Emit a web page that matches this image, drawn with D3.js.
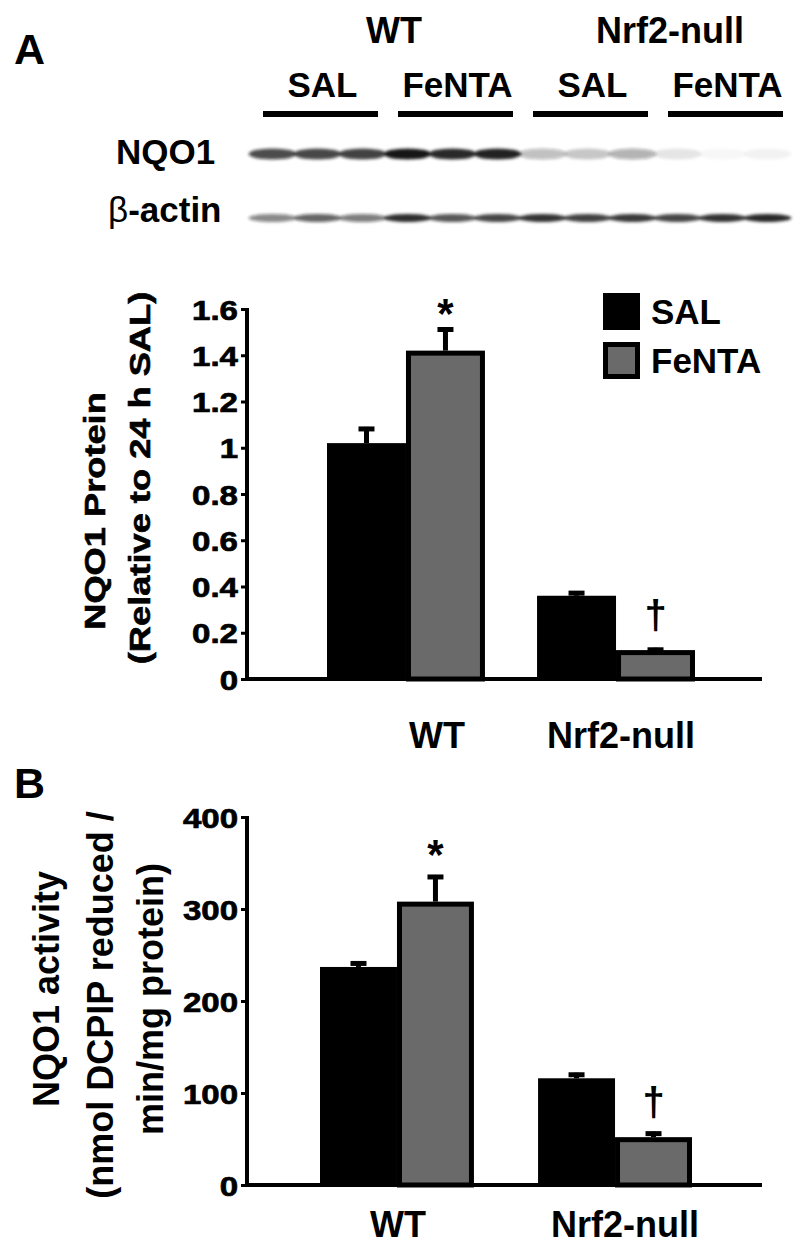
<!DOCTYPE html>
<html>
<head>
<meta charset="utf-8">
<script src="https://cdn.jsdelivr.net/npm/d3@7"></script>
<style>
  body { margin: 0; background: #fff; }
  svg text { font-family: "Liberation Sans", Arial, sans-serif; font-weight: bold; fill: #000; }
</style>
</head>
<body>
<svg width="800" height="1249"></svg>
<script>
// ---- data ----
var groups = ["WT", "Nrf2-null"];
var treatments = ["SAL", "FeNTA"];

// panel A: NQO1 protein (relative to 24 h SAL)
var proteinSAL = [1.02, 0.36];
var proteinSALerr = [0.07, 0.02];
var proteinFeNTA = [1.42, 0.125];
var proteinFeNTAerr = [0.10, 0.01];
var proteinTicks = [0, 0.2, 0.4, 0.6, 0.8, 1, 1.2, 1.4, 1.6];

// panel B: NQO1 activity
var activitySAL = [237, 116];
var activitySALerr = [6, 6];
var activityFeNTA = [308, 52];
var activityFeNTAerr = [29, 6];
var activityTicks = [0, 100, 200, 300, 400];

// western blot band intensities, 12 lanes (3 per group)
var nqo1Bands = [0.75, 0.8, 0.82, 1.0, 0.92, 0.95, 0.28, 0.22, 0.33, 0.1, 0.03, 0.05];
var actinBands = [0.5, 0.65, 0.55, 0.9, 0.7, 0.8, 0.88, 0.82, 0.85, 0.8, 0.88, 0.92];
var laneGroups = ["SAL", "FeNTA", "SAL", "FeNTA"];

var svg = d3.select("svg");
var grey = "#6a6a6a";

svg.append("rect").attr("width", 800).attr("height", 1249).attr("fill", "#fff");

var defs = svg.append("defs");
defs.append("filter").attr("id", "blur")
    .attr("x", "-20%").attr("y", "-100%").attr("width", "140%").attr("height", "300%")
    .append("feGaussianBlur").attr("stdDeviation", 1.8);

// panel letters
svg.append("text").attr("x", 14).attr("y", 64).style("font-size", "43px").text("A");
svg.append("text").attr("x", 14).attr("y", 798).style("font-size", "43px").text("B");

// ---- blot ----
var lanes = d3.scaleBand().domain(d3.range(12)).range([250, 790]);

var blot = svg.append("g");
blot.append("text").attr("x", 394).attr("y", 43).attr("text-anchor", "middle")
    .style("font-size", "36px").text(groups[0]);
blot.append("text").attr("x", 670).attr("y", 43).attr("text-anchor", "middle")
    .style("font-size", "36px").text(groups[1]);

laneGroups.forEach(function (g, i) {
    var x0 = lanes(i * 3) + 13, x1 = lanes(i * 3 + 2) + lanes.bandwidth() - 7;
    blot.append("line").attr("x1", x0).attr("x2", x1).attr("y1", 114).attr("y2", 114)
        .attr("stroke", "#000").attr("stroke-width", 6);
    blot.append("text").attr("x", (x0 + x1) / 2 + 2).attr("y", 97).attr("text-anchor", "middle")
        .style("font-size", "35px").text(g);
});

blot.append("text").attr("x", 116).attr("y", 164).style("font-size", "35px").text("NQO1");
var bt = blot.append("text").attr("x", 108).attr("y", 222).style("font-size", "35px");
bt.append("tspan").style("font-weight", "normal").text("β");
bt.append("tspan").text("-actin");

blot.append("g").attr("filter", "url(#blur)")
    .selectAll("ellipse").data(nqo1Bands).enter().append("ellipse")
    .attr("cx", function (d, i) { return lanes(i) + lanes.bandwidth() / 2; })
    .attr("cy", 154).attr("rx", 24).attr("ry", 5.5)
    .attr("fill", "#151515").attr("opacity", function (d) { return d; });

blot.append("g").attr("filter", "url(#blur)")
    .selectAll("ellipse").data(actinBands).enter().append("ellipse")
    .attr("cx", function (d, i) { return lanes(i) + lanes.bandwidth() / 2; })
    .attr("cy", 218).attr("rx", 24).attr("ry", 4)
    .attr("fill", "#151515").attr("opacity", function (d) { return d; });

// ---- bar chart helper ----
function barChart(opt) {
    var g = svg.append("g");
    var y = d3.scaleLinear().domain(opt.domain).range([opt.bottom, opt.top]);
    var x0 = d3.scaleBand().domain(groups).range(opt.xr).paddingInner(opt.pad);
    var x1 = d3.scaleBand().domain(treatments).range([0, x0.bandwidth()]);

    // bars
    groups.forEach(function (grp, i) {
        var sal = opt.sal[i], fe = opt.fe[i];
        g.append("rect")
            .attr("x", x0(grp) + x1("SAL")).attr("width", x1.bandwidth())
            .attr("y", y(sal)).attr("height", y(0) - y(sal))
            .attr("fill", "#000");
        g.append("rect")
            .attr("x", x0(grp) + x1("FeNTA") + 2.5).attr("width", x1.bandwidth() - 5)
            .attr("y", y(fe) + 2.5).attr("height", y(0) - y(fe) - 2.5)
            .attr("fill", grey).attr("stroke", "#000").attr("stroke-width", 5);

        [["SAL", sal, opt.salErr[i]], ["FeNTA", fe, opt.feErr[i]]].forEach(function (e) {
            var cx = x0(grp) + x1(e[0]) + x1.bandwidth() / 2;
            var top = y(e[1] + e[2]);
            g.append("line").attr("x1", cx).attr("x2", cx).attr("y1", y(e[1])).attr("y2", top)
                .attr("stroke", "#000").attr("stroke-width", 5);
            g.append("line").attr("x1", cx - 8).attr("x2", cx + 8).attr("y1", top + 2).attr("y2", top + 2)
                .attr("stroke", "#000").attr("stroke-width", 5);
        });
    });

    // significance marks
    var cWT = x0("WT") + x1("FeNTA") + x1.bandwidth() / 2;
    g.append("text").attr("x", cWT).attr("y", y(opt.fe[0] + opt.feErr[0]) - opt.starOff)
        .attr("text-anchor", "middle").style("font-size", "42px").text("*");
    var cN = x0("Nrf2-null") + x1("FeNTA") + x1.bandwidth() / 2;
    g.append("text").attr("x", cN).attr("y", y(opt.fe[1] + opt.feErr[1]) - opt.dagOff)
        .attr("text-anchor", "middle").style("font-size", "40px").text("†");

    // y axis
    var ax = g.append("g").attr("transform", "translate(247,0)")
        .call(d3.axisLeft(y).tickValues(opt.ticks).tickSize(5).tickSizeOuter(0).tickPadding(0)
            .tickFormat(function (d) { return String(d); }));
    ax.select(".domain").attr("stroke-width", 4).attr("d", "M0," + (y(0) + 2) + "V" + (opt.top - 1));
    ax.selectAll(".tick line").attr("stroke-width", 3).attr("x1", -1).attr("x2", -6);
    ax.selectAll(".tick text")
        .attr("x", null).attr("dy", null)
        .attr("transform", "translate(-9,10) scale(1.18,1)")
        .attr("stroke", "#000").attr("stroke-width", 0.7)
        .style("font-size", "28px").attr("font-family", null);

    // x axis line
    g.append("line").attr("x1", 245).attr("x2", 762).attr("y1", y(0)).attr("y2", y(0))
        .attr("stroke", "#000").attr("stroke-width", 4);

    // group labels
    groups.forEach(function (grp, i) {
        g.append("text").attr("x", opt.labelX[i]).attr("y", opt.labelY)
            .attr("text-anchor", "middle").style("font-size", "36px").text(grp);
    });

    // y titles
    opt.titles.forEach(function (t) {
        g.append("text")
            .attr("transform", "translate(" + t[1] + "," + t[2] + ") rotate(-90) scale(" + opt.titleSx + ",1)")
            .attr("text-anchor", "middle").attr("stroke", "#000").attr("stroke-width", opt.titleStroke)
            .style("font-size", opt.titleSize + "px").text(t[0]);
    });
    return g;
}

barChart({
    domain: [0, 1.6], bottom: 679, top: 309, xr: [327, 695], pad: 0.248,
    sal: proteinSAL, salErr: proteinSALerr, fe: proteinFeNTA, feErr: proteinFeNTAerr,
    ticks: proteinTicks, starOff: 0, dagOff: 19,
    labelX: [437, 621], labelY: 748,
    titles: [["NQO1 Protein", 105, 511], ["(Relative to 24 h SAL)", 150, 478]],
    titleSize: 29, titleSx: 1.25, titleStroke: 0.6
});

barChart({
    domain: [0, 400], bottom: 1185, top: 817, xr: [320, 692], pad: 0.294,
    sal: activitySAL, salErr: activitySALerr, fe: activityFeNTA, feErr: activityFeNTAerr,
    ticks: activityTicks, starOff: 6, dagOff: 16,
    labelX: [398, 625], labelY: 1237,
    titles: [["NQO1 activity", 59, 989], ["(nmol DCPIP reduced /", 113, 1005], ["min/mg protein)", 163, 999]],
    titleSize: 36, titleSx: 1, titleStroke: 0
});

// legend
var leg = svg.append("g");
treatments.forEach(function (t, i) {
    var yy = 293 + i * 49;
    leg.append("rect").attr("x", t === "SAL" ? 603 : 605.5).attr("y", t === "SAL" ? yy : yy + 2.5)
        .attr("width", t === "SAL" ? 37 : 32).attr("height", t === "SAL" ? 37 : 32)
        .attr("fill", t === "SAL" ? "#000" : grey)
        .attr("stroke", "#000").attr("stroke-width", t === "SAL" ? 0 : 5);
    leg.append("text").attr("x", 651).attr("y", yy + 31).style("font-size", "35px").text(t);
});
</script>
</body>
</html>
